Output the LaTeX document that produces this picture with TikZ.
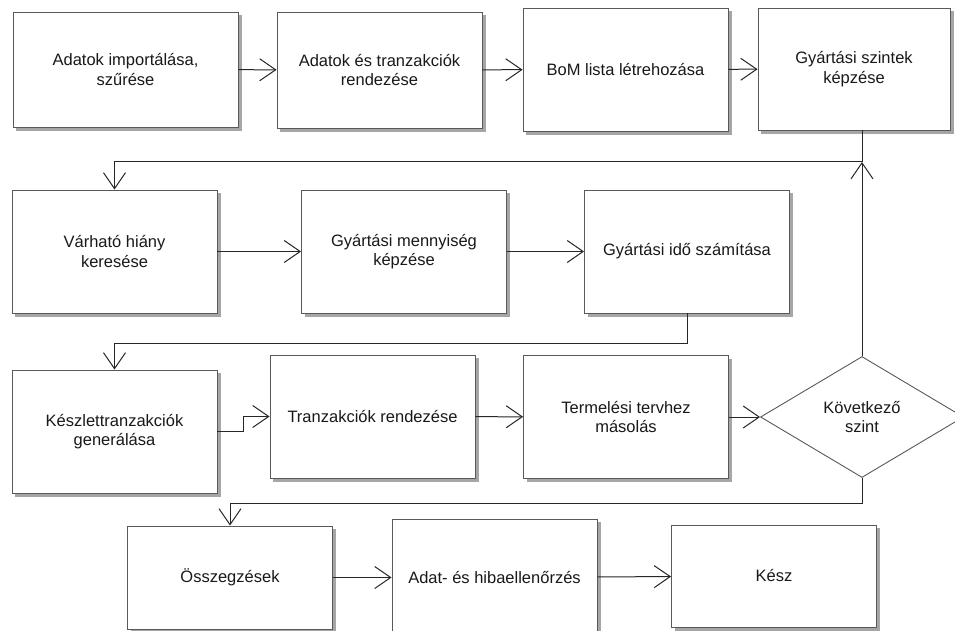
\documentclass[tikz,border=0pt]{standalone}
\usepackage{fontspec}
\setmainfont{Liberation Sans}
\usetikzlibrary{arrows.meta,shapes.geometric,backgrounds}

\tikzset{
  txt/.style={align=center,font=\fontsize{16.5}{19.5}\selectfont,text=black!90},
  box/.style={txt,rectangle,draw=black!65,fill=white,line width=0.9pt,
    minimum width=205pt,minimum height=123pt,inner sep=2pt},
  shade box/.style={fill=black!35,draw=none},
  decision/.style={txt,diamond,draw=black!65,fill=white,line width=0.9pt,
    aspect=1.68,minimum width=203pt,minimum height=121pt,inner sep=0pt},
  flow/.style={draw=black!85,line width=1pt,-{Straight Barb[length=16pt,width=22pt]}},
}

\begin{document}
\begin{tikzpicture}[x=1pt,y=-1pt]
    \useasboundingbox (0,0) rectangle (955,631);
    \begin{scope}[every node/.style={box}]
        % first row
        \node[minimum width=225pt,minimum height=115pt] (a1) at (125.5,69.5) {Adatok importálása,\\szűrése};
        \node[minimum height=116pt] (a2) at (379.5,70) {Adatok és tranzakciók\\rendezése};
        \node (a3) at (625.5,69.5) {BoM lista létrehozása};
        \node[minimum width=192pt,minimum height=122pt] (a4) at (854,69) {Gyártási szintek\\képzése};
        % second row
        \node (b1) at (114.5,251.5) {Várható hiány\\keresése};
        \node (b2) at (404,251.5) {Gyártási mennyiség\\képzése};
        \node (b3) at (687,251.5) {Gyártási idő számítása};
        % third row
        \node (c1) at (114.5,431.5) {Készlettranzakciók\\generálása};
        \node (c2) at (372.5,416.5) {Tranzakciók rendezése};
        \node (c3) at (626,417) {Termelési tervhez\\másolás};
        % last row
        \node[minimum height=103pt] (e1) at (230,577.5) {Összegzések};
        \node[minimum height=117pt] (e2) at (494.5,577.5) {Adat- és hibaellenőrzés};
        \node[minimum height=102pt] (e3) at (774,576) {Kész};
    \end{scope}
    \node[decision] (k) at (862,417) {Következő\\szint};

    % shadows behind the boxes
    \begin{scope}[on background layer]
        \foreach \n in {a1,a2,a3,a4,b1,b2,b3,c1,c2,c3,e1,e2,e3} {
            \path [shade box] ([shift={(3.5,0)}]\n.south west) rectangle ([shift={(3.5,3.5)}]\n.south east);
            \path [shade box] ([shift={(0,3.5)}]\n.north east) rectangle ([shift={(3.5,3.5)}]\n.south east);
        }
    \end{scope}

    \coordinate (j1) at (862,162);
    \coordinate (j2) at (0,343);
    \coordinate (j3) at (0,503);

    \path [flow] (a1) edge (a2);
    \path [flow] (a2) edge (a3);
    \path [flow] (a3) edge (a4);
    \path [flow] (b1) edge (b2);
    \path [flow] (b2) edge (b3);
    \path [flow] (c2) edge (c3);
    \path [flow] (c3) edge (k);
    \path [flow] (e1) edge (e2);
    \path [flow] (e2) edge (e3);

    \draw [flow] (j1 |- a4.south) -- (j1) -| (b1.north);
    \draw [flow] (k.north) -- (j1);
    \draw [flow] (b3.south) -- (b3.south |- j2) -| (c1.north);
    \draw [flow] (c1.east) -- ++(26,0) |- (c2.west);
    \draw [flow] (k.south) -- (k.south |- j3) -| (e1.north);
\end{tikzpicture}
\end{document}
